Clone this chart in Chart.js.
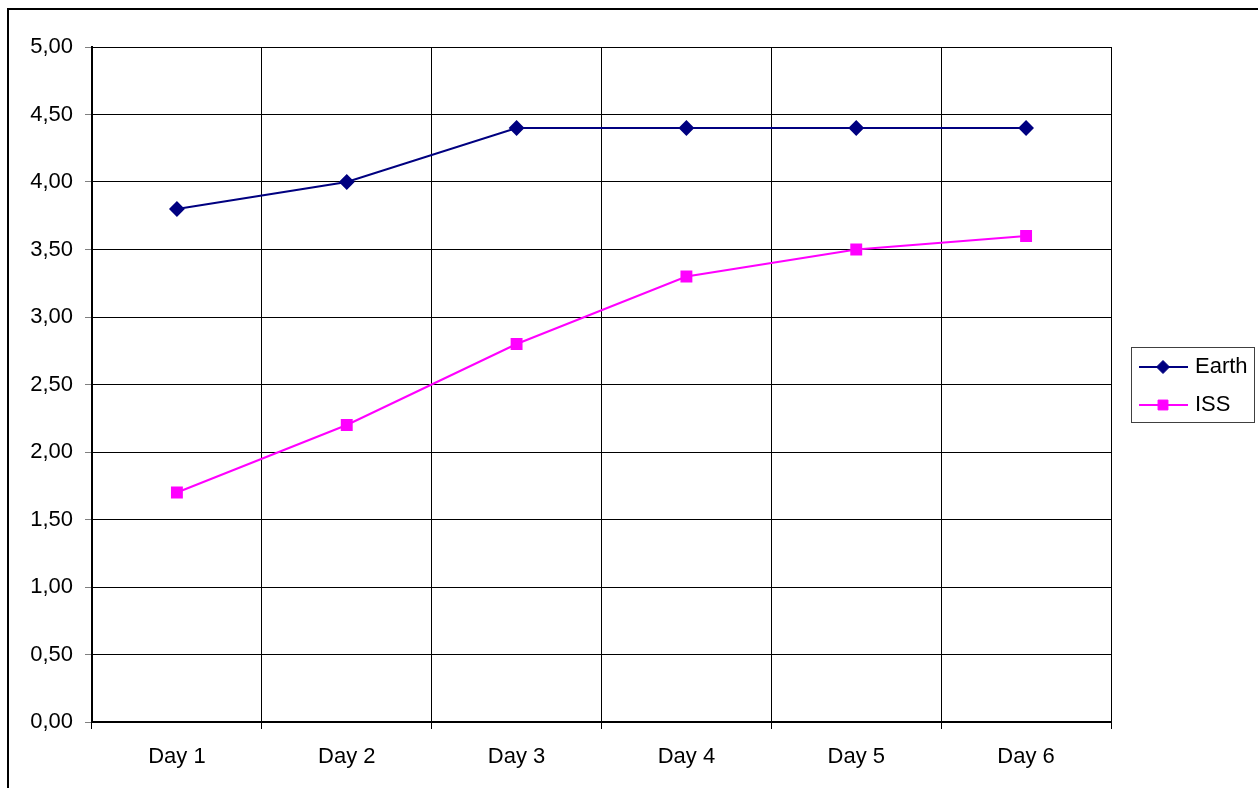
<!DOCTYPE html>
<html>
<head>
<meta charset="utf-8">
<script src="https://cdn.jsdelivr.net/npm/chart.js@4/dist/chart.umd.min.js"></script>
<style>
  html, body { margin: 0; padding: 0; background: #fff; overflow: hidden; }
  #wrap { position: relative; width: 1258px; height: 788px; }
</style>
</head>
<body>
<div id="wrap"><canvas id="c" width="1258" height="788"></canvas></div>
<script>
const days = ['Day 1', 'Day 2', 'Day 3', 'Day 4', 'Day 5', 'Day 6'];
const earth = [3.8, 4.0, 4.4, 4.4, 4.4, 4.4];
const iss = [1.7, 2.2, 2.8, 3.3, 3.5, 3.6];
const yTicks = [0, 0.5, 1, 1.5, 2, 2.5, 3, 3.5, 4, 4.5, 5];

const FONT = 'Liberation Sans, Arial, sans-serif';

// Frame around the whole chart
const framePlugin = {
  id: 'frame',
  beforeDraw(chart) {
    const ctx = chart.ctx;
    ctx.save();
    ctx.fillStyle = '#fff';
    ctx.fillRect(0, 0, chart.width, chart.height);
    ctx.strokeStyle = '#000';
    ctx.lineWidth = 2;
    ctx.strokeRect(8, 9, 1300, 900);
    ctx.restore();
  }
};

// Boxed legend at the right, using each dataset's line and marker style
const boxLegend = {
  id: 'boxLegend',
  afterDraw(chart) {
    const ctx = chart.ctx;
    const x0 = 1131.5, y0 = 347.5, w = 123, h = 75;
    ctx.save();
    ctx.strokeStyle = '#404040';
    ctx.lineWidth = 1;
    ctx.strokeRect(x0, y0, w, h);
    chart.data.datasets.forEach((ds, i) => {
      const y = 367 + i * 38;
      ctx.strokeStyle = ds.borderColor;
      ctx.lineWidth = 2;
      ctx.beginPath();
      ctx.moveTo(1139, y);
      ctx.lineTo(1188, y);
      ctx.stroke();
      ctx.fillStyle = ds.pointBackgroundColor;
      ctx.strokeStyle = ds.pointBorderColor;
      ctx.lineWidth = 1;
      Chart.helpers.drawPoint(ctx, {
        pointStyle: ds.pointStyle,
        radius: ds.pointRadius,
        rotation: 0,
        borderWidth: 1
      }, 1163, y);
      ctx.fillStyle = '#000';
      ctx.font = '22px ' + FONT;
      ctx.textBaseline = 'middle';
      ctx.textAlign = 'left';
      ctx.fillText(ds.label, 1195, y);
    });
    ctx.restore();
  }
};

new Chart(document.getElementById('c'), {
  type: 'line',
  data: {
    labels: days,
    datasets: [
      {
        label: 'Earth',
        data: earth,
        borderColor: '#000080',
        backgroundColor: '#000080',
        pointBackgroundColor: '#000080',
        pointBorderColor: '#000080',
        pointStyle: 'rectRot',
        pointRadius: 6.5,
        borderWidth: 2,
        tension: 0
      },
      {
        label: 'ISS',
        data: iss,
        borderColor: '#ff00ff',
        backgroundColor: '#ff00ff',
        pointBackgroundColor: '#ff00ff',
        pointBorderColor: '#ff00ff',
        pointStyle: 'rect',
        pointRadius: 7,
        borderWidth: 2,
        tension: 0
      }
    ]
  },
  options: {
    responsive: false,
    animation: false,
    devicePixelRatio: 1,
    layout: { padding: { left: 0, top: 47, right: 147, bottom: 0 } },
    plugins: {
      legend: { display: false },
      tooltip: { enabled: false }
    },
    scales: {
      x: {
        type: 'category',
        offset: true,
        grid: {
          offset: true,
          color: '#000',
          lineWidth: 1,
          tickLength: 7,
          tickColor: '#000',
          drawOnChartArea: true
        },
        border: { color: '#000', width: 2 },
        ticks: {
          color: '#000',
          font: { family: FONT, size: 22 },
          padding: 15,
          maxRotation: 0
        },
        afterFit(scale) { scale.height = 66; }
      },
      y: {
        min: 0,
        max: 5,
        afterBuildTicks(scale) { scale.ticks = yTicks.map(v => ({ value: v })); },
        grid: {
          color: '#000',
          lineWidth: 1,
          tickLength: 7,
          tickColor: '#808080'
        },
        border: { color: '#000', width: 2 },
        ticks: {
          color: '#000',
          font: { family: FONT, size: 22 },
          padding: 12,
          callback: v => v.toFixed(2).replace('.', ',')
        },
        afterFit(scale) { scale.width = 92; }
      }
    }
  },
  plugins: [framePlugin, boxLegend]
});
</script>
</body>
</html>
